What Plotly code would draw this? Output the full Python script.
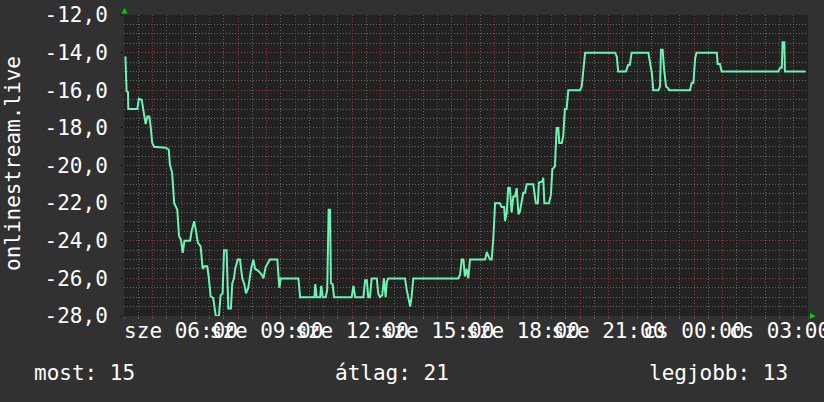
import plotly.graph_objects as go

# ---- data (hours since sze 04:00, value) ----
hours = [0.05, 0.07, 0.09, 0.14, 0.15, 0.47, 0.52, 0.62, 0.68, 0.76, 0.82, 0.89, 0.94, 0.99, 1.06,
         1.46, 1.57, 1.61, 1.69, 1.76, 1.87, 1.93, 2.00, 2.06, 2.12, 2.32, 2.37, 2.46, 2.53, 2.59,
         2.69, 2.76, 2.82, 2.92, 2.97, 3.04, 3.13, 3.18, 3.22, 3.33, 3.39, 3.46, 3.51, 3.60, 3.66,
         3.75, 3.80, 3.86, 3.90, 3.99, 4.07, 4.15, 4.22, 4.28, 4.36, 4.46, 4.54, 4.60, 4.71, 4.83,
         4.89, 4.97, 5.12, 5.38, 5.45, 5.50, 6.12, 6.18, 6.68, 6.71, 6.76, 6.88, 6.92, 6.97, 7.08,
         7.13, 7.18, 7.23, 7.26, 7.32, 7.37, 7.99, 8.05, 8.11, 8.40, 8.46, 8.52, 8.57, 8.63, 8.69,
         8.87, 8.92, 8.98, 9.06, 9.12, 9.18, 9.22, 9.27, 9.86, 9.92, 9.98, 10.04, 10.09, 10.15,
         11.73, 11.79, 11.85, 11.91, 11.96, 12.02, 12.08, 12.14, 12.67, 12.73, 12.84, 12.90, 12.96,
         13.02, 13.19, 13.25, 13.34, 13.37, 13.43, 13.48, 13.54, 13.60, 13.66, 13.72, 13.78, 13.84,
         13.89, 14.01, 14.07, 14.13, 14.36, 14.45, 14.52, 14.56, 14.68, 14.71, 14.75, 14.91, 14.98,
         15.03, 15.12, 15.18, 15.24, 15.27, 15.36, 15.41, 15.47, 15.53, 15.59, 16.00, 16.06, 16.12,
         16.18, 17.23, 17.29, 17.34, 17.61, 17.69, 17.75, 17.81, 18.40, 18.46, 18.52, 18.57, 18.75,
         18.81, 18.84, 18.90, 18.95, 19.02, 19.10, 19.13, 19.86, 19.92, 19.98, 20.04, 20.09, 20.80,
         20.83, 20.91, 20.97, 22.96, 23.02, 23.08, 23.11, 23.17, 23.19, 23.92]
values = [-14.2, -15.07, -16.05, -16.1, -17.0, -17.0, -16.45, -16.5, -17.0, -17.8, -17.4, -17.4, -18.0, -18.8, -19.0,
          -19.05, -19.15, -19.95, -20.4, -22.0, -22.35, -23.75, -23.95, -24.65, -24.0, -24.0, -23.5, -22.97, -23.5, -24.1,
          -24.3, -25.5, -25.35, -25.35, -25.9, -26.95, -27.05, -27.5, -28.0, -28.0, -26.9, -26.8, -24.5, -24.5, -27.6,
          -27.6, -26.25, -26.0, -25.5, -25.0, -25.0, -26.0, -26.3, -26.8, -26.5, -25.5, -25.0, -25.5, -25.6, -25.8,
          -26.0, -25.4, -25.0, -25.0, -26.5, -26.0, -26.0, -27.0, -27.0, -26.3, -27.0, -27.0, -26.4, -27.0, -27.0,
          -26.6, -22.35, -22.35, -26.25, -26.3, -27.0, -27.0, -26.4, -27.0, -27.0, -26.1, -26.1, -27.0, -27.0, -26.0,
          -26.0, -26.8, -27.0, -26.9, -26.0, -27.0, -26.2, -26.0, -26.0, -26.6, -27.0, -27.5, -27.0, -26.0,
          -26.0, -25.8, -25.0, -25.0, -25.9, -25.5, -26.0, -25.0, -25.0, -24.6, -25.0, -25.0, -23.85,
          -22.0, -22.0, -22.2, -22.2, -22.95, -22.5, -21.2, -21.2, -22.5, -21.65, -21.65, -21.2, -22.6,
          -22.45, -21.45, -21.45, -21.0, -21.0, -22.0, -22.0, -20.9, -20.85, -20.65, -22.0, -22.0, -21.55,
          -20.2, -20.05, -18.0, -18.0, -18.8, -18.8, -18.45, -17.0, -17.0, -16.0, -16.0, -15.8, -15.0,
          -14.0, -14.0, -14.2, -15.0, -15.0, -14.65, -14.65, -14.0, -14.0, -14.55, -15.07, -16.0, -16.0,
          -15.8, -13.85, -13.85, -14.9, -15.8, -15.9, -16.0, -16.0, -15.6, -15.6, -14.3, -14.0, -14.0,
          -14.6, -14.6, -15.0, -15.0, -14.8, -14.8, -13.45, -13.45, -15.0, -15.0]

x_label_hours = [2, 5, 8, 11, 14, 17, 20, 23]
x_labels = ["sze 06:00", "sze 09:00", "sze 12:00", "sze 15:00", "sze 18:00", "sze 21:00", "cs 00:00", "cs 03:00"]
y_tick_vals = [-28, -26, -24, -22, -20, -18, -16, -14, -12]
y_tick_text = ["-28,0", "-26,0", "-24,0", "-22,0", "-20,0", "-18,0", "-16,0", "-14,0", "-12,0"]
legend_items = ["most: 15", "átlag: 21", "legjobb: 13"]
y_title = "onlinestream.live"

# ---- layout geometry ----
W, H = 824, 402
L, R, T, B = 124, 16, 15, 86
PW, PH = W - L - R, H - T - B

def px2x(px):
    return (px - L) / PW

def py2y(py):
    return (H - B - py) / PH

FONT = "DejaVu Sans Mono"
RED = "#923a3a"
GREY = "#666666"
LINE = "#6ff2b4"

fig = go.Figure()
fig.add_trace(go.Scatter(x=hours, y=values, mode="lines",
                         line=dict(color=LINE, width=2), hoverinfo="skip"))

hour_ticks = list(range(0, 25))
lab = dict(zip(x_label_hours, x_labels))
hour_text = [lab.get(h, "") for h in hour_ticks]
half_ticks = [h + 0.5 for h in range(0, 24)]
y_minor = [-28 + 0.5 * i for i in range(33)]

fig.update_layout(
    width=W, height=H,
    margin=dict(l=L, r=R, t=T, b=B, pad=0, autoexpand=False),
    paper_bgcolor="#313131",
    plot_bgcolor="#222222",
    showlegend=False,
    font=dict(family=FONT, size=21, color="#ffffff"),
    xaxis=dict(range=[0, 24], tickmode="array", tickvals=hour_ticks, ticktext=hour_text,
               tickangle=0, showgrid=True, gridcolor=RED, griddash="1px,2px", gridwidth=1,
               zeroline=False, showline=False, ticks="outside", ticklen=2, tickcolor=RED,
               ticklabeloverflow="allow", fixedrange=True, automargin=False,
               ticklabelstandoff=-6,
               tickfont=dict(family=FONT, size=21, color="#ffffff"),
               minor=dict(tickmode="array", tickvals=half_ticks, showgrid=True, gridcolor=GREY,
                          griddash="1px,2px", gridwidth=1, ticks="outside", ticklen=2, tickcolor=GREY)),
    yaxis=dict(range=[-28, -12], tickmode="array", tickvals=y_tick_vals, ticktext=y_tick_text,
               showgrid=True, gridcolor=RED, griddash="1px,2px", gridwidth=1,
               zeroline=False, showline=False, ticks="outside", ticklen=3, tickcolor="#1a1a1a",
               ticklabelstandoff=8, fixedrange=True, automargin=False,
               tickfont=dict(family=FONT, size=21, color="#ffffff"),
               minor=dict(tickmode="array", tickvals=y_minor, showgrid=True, gridcolor=GREY,
                          griddash="1px,2px", gridwidth=1)),
)

# y-axis title
fig.add_annotation(text=y_title, textangle=-90, xref="paper", yref="paper",
                   x=px2x(13), y=py2y(164), xanchor="center", yanchor="middle",
                   showarrow=False, font=dict(family=FONT, size=21, color="#ffffff"))

# legend row
for txt, px in zip(legend_items, [32, 333, 647]):
    fig.add_annotation(text=txt, xref="paper", yref="paper", x=px2x(px), y=py2y(373),
                       xanchor="left", yanchor="middle", showarrow=False,
                       font=dict(family=FONT, size=21, color="#ffffff"))

# axis arrows
def tri(pts):
    p = "M " + " L ".join(f"{px2x(a):.5f},{py2y(b):.5f}" for a, b in pts) + " Z"
    return p

fig.add_shape(type="path", xref="paper", yref="paper", path=tri([(121.5, 13.5), (127.5, 13.5), (124.5, 8)]),
              fillcolor="#00d000", line=dict(width=0))
fig.add_shape(type="path", xref="paper", yref="paper", path=tri([(810, 313), (810, 319), (815.5, 316)]),
              fillcolor="#00d000", line=dict(width=0))

fig.write_html("out.html", config={"displayModeBar": False},
               post_script="document.body.style.margin='0';document.body.style.overflow='hidden';")
